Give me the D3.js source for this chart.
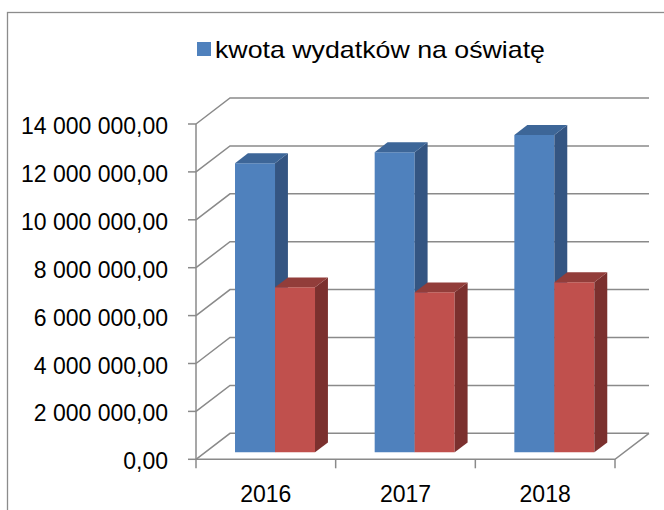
<!DOCTYPE html>
<html>
<head>
<meta charset="utf-8">
<script src="https://cdn.jsdelivr.net/npm/d3@7"></script>
<style>
  body { margin: 0; background: #fff; }
  svg { display: block; }
</style>
</head>
<body>
<div id="svgContainer"></div>
<script>

var years = ["2016", "2017", "2018"];
var spending = [12070000, 12530000, 13250000];
var secondSeries = [6890000, 6680000, 7100000];
var yTicks = [0, 2000000, 4000000, 6000000, 8000000, 10000000, 12000000, 14000000];
var legendLabel = "kwota wydatków na oświatę";

var WIDTH = 664;
var HEIGHT = 510;

// depth of the 3d box (front -> back wall)
var DX = 34;
var DY = -26;
var BAR_W = 40;
var BAR_Z0 = 0.27;
var BAR_Z1 = 0.65;

var GRID = "#8a8a8a";
var FONT = "Liberation Sans, Arial, sans-serif";

function proj(x, y, z)
{
    return [x + z * DX, y + z * DY];
}

function poly(pts)
{
    return pts.map(function (p) { return p[0] + "," + p[1]; }).join(" ");
}

function makeChart()
{
    var svg = d3.select("#svgContainer").append("svg")
                .attr("width", WIDTH)
                .attr("height", HEIGHT);

    // outer frame, cut by the picture on the right and bottom
    svg.append("rect")
       .attr("x", 7.5).attr("y", 12.5)
       .attr("width", 720).attr("height", 560)
       .style("fill", "none")
       .style("stroke", "#8c8c8c")
       .style("stroke-width", 1.3);

    var x = d3.scaleBand().domain(years).range([196, 615]);
    var y = d3.scaleLinear().domain([0, 14000000]).range([459.3, 124]);

    var fmt = function (v) {
        return d3.format(",.2f")(v).replace(/,/g, " ").replace(".", ",");
    };

    // wall gridlines: side diagonal + back horizontal
    var grid = svg.append("g").attr("class", "grid");
    yTicks.forEach(function (v) {
        var f = proj(196, y(v), 0);
        var b = proj(196, y(v), 1);
        var e = proj(615, y(v), 1);
        grid.append("polyline")
            .attr("points", poly([f, b, e]))
            .style("fill", "none")
            .style("stroke", GRID)
            .style("stroke-width", 1.5);
    });

    // floor front + right edges
    var fl = proj(196, y(0), 0), fr = proj(615, y(0), 0), br = proj(615, y(0), 1);
    grid.append("polyline")
        .attr("points", poly([fl, fr, br]))
        .style("fill", "none")
        .style("stroke", GRID)
        .style("stroke-width", 1.5);

    // value axis
    var axis = svg.append("g").attr("class", "yaxis");
    axis.append("line")
        .attr("x1", 196).attr("x2", 196)
        .attr("y1", y(0)).attr("y2", y(14000000))
        .style("stroke", GRID).style("stroke-width", 1.5);
    axis.selectAll(".tick")
        .data(yTicks)
        .enter().append("line")
        .attr("x1", 188).attr("x2", 196)
        .attr("y1", function (d) { return y(d); })
        .attr("y2", function (d) { return y(d); })
        .style("stroke", GRID).style("stroke-width", 1.5);
    axis.selectAll(".lbl")
        .data(yTicks)
        .enter().append("text")
        .attr("x", 168)
        .attr("y", function (d) { return y(d) + 10; })
        .attr("text-anchor", "end")
        .style("font-family", FONT)
        .style("font-size", "23px")
        .style("fill", "#000")
        .text(fmt);

    // category axis ticks
    var catTicks = years.map(function (d) { return x(d); }).concat([615]);
    svg.selectAll(".ctick")
       .data(catTicks)
       .enter().append("line")
       .attr("x1", function (d) { return d; })
       .attr("x2", function (d) { return d; })
       .attr("y1", y(0)).attr("y2", y(0) + 9)
       .style("stroke", GRID).style("stroke-width", 1.5);
    svg.selectAll(".clbl")
       .data(years)
       .enter().append("text")
       .attr("x", function (d) { return x(d) + x.bandwidth() / 2; })
       .attr("y", 502)
       .attr("text-anchor", "middle")
       .style("font-family", FONT)
       .style("font-size", "23px")
       .style("fill", "#000")
       .text(function (d) { return d; });

    // bars, left to right so the right one covers the side of the left one
    var bars = [];
    years.forEach(function (yr, i) {
        var x0 = x(yr) + (x.bandwidth() - 2 * BAR_W) / 2;
        bars.push({ x: x0, v: spending[i], front: "#4f81bd", top: "#3d6698", side: "#345582" });
        bars.push({ x: x0 + BAR_W, v: secondSeries[i], front: "#c0504d", top: "#923d3a", side: "#7b302e" });
    });

    var g = svg.selectAll(".bar")
               .data(bars)
               .enter().append("g")
               .attr("class", "bar");

    g.append("polygon")
     .attr("points", function (d) {
         return poly([proj(d.x, y(0), BAR_Z0), proj(d.x + BAR_W, y(0), BAR_Z0),
                      proj(d.x + BAR_W, y(d.v), BAR_Z0), proj(d.x, y(d.v), BAR_Z0)]);
     })
     .style("fill", function (d) { return d.front; });
    g.append("polygon")
     .attr("points", function (d) {
         return poly([proj(d.x + BAR_W, y(0), BAR_Z0), proj(d.x + BAR_W, y(0), BAR_Z1),
                      proj(d.x + BAR_W, y(d.v), BAR_Z1), proj(d.x + BAR_W, y(d.v), BAR_Z0)]);
     })
     .style("fill", function (d) { return d.side; });
    g.append("polygon")
     .attr("points", function (d) {
         return poly([proj(d.x, y(d.v), BAR_Z0), proj(d.x + BAR_W, y(d.v), BAR_Z0),
                      proj(d.x + BAR_W, y(d.v), BAR_Z1), proj(d.x, y(d.v), BAR_Z1)]);
     })
     .style("fill", function (d) { return d.top; });

    // legend
    var lg = svg.append("g").attr("class", "legend");
    lg.append("rect")
      .attr("x", 197).attr("y", 42)
      .attr("width", 14).attr("height", 14)
      .style("fill", "#4f81bd");
    lg.append("text")
      .attr("x", 215).attr("y", 58)
      .attr("textLength", 330)
      .attr("lengthAdjust", "spacingAndGlyphs")
      .style("font-family", FONT)
      .style("font-size", "24px")
      .style("fill", "#000")
      .text(legendLabel);
}


makeChart();

</script>
</body>
</html>
